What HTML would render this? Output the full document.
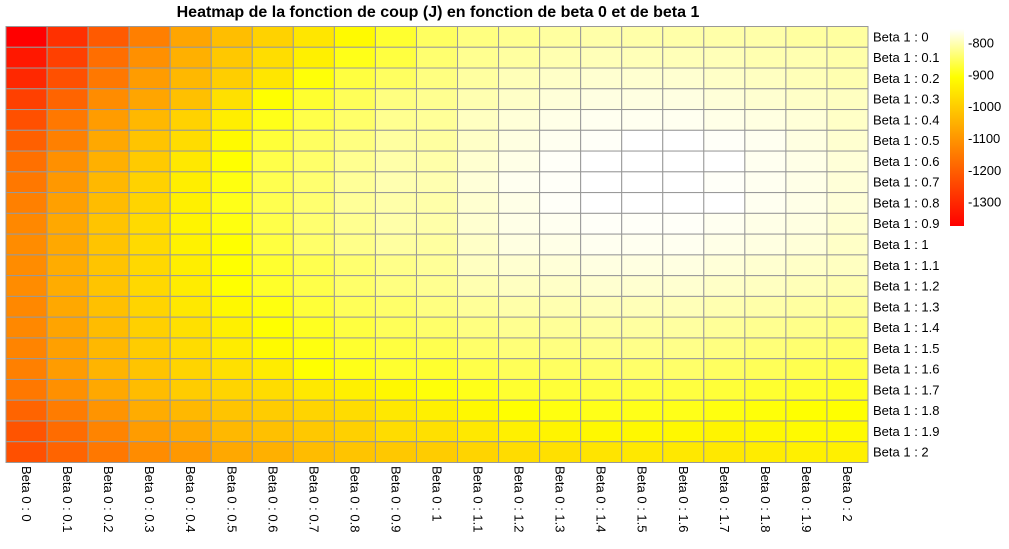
<!DOCTYPE html>
<html><head><meta charset="utf-8"><style>
body{margin:0;background:#fff;width:1009px;height:544px;overflow:hidden;font-family:"Liberation Sans",sans-serif}
</style></head><body>
<svg id="chart" width="1009" height="544" xmlns="http://www.w3.org/2000/svg" font-family="Liberation Sans, sans-serif">
<text x="438" y="17" text-anchor="middle" font-size="16" font-weight="bold" fill="#000">Heatmap de la fonction de coup (J) en fonction de beta 0 et de beta 1</text>
<g id="cells"></g><g id="xl"></g><g id="yl"></g><g id="cb"></g>
</svg>
<script>
const beta0Labels=["0","0.1","0.2","0.3","0.4","0.5","0.6","0.7","0.8","0.9","1","1.1","1.2","1.3","1.4","1.5","1.6","1.7","1.8","1.9","2"];
const beta1Labels=["0","0.1","0.2","0.3","0.4","0.5","0.6","0.7","0.8","0.9","1","1.1","1.2","1.3","1.4","1.5","1.6","1.7","1.8","1.9","2"];
const colorTicks=[-800,-900,-1000,-1100,-1200,-1300];
const row0=[-1375,-1287,-1210,-1142,-1072,-1026,-990,-953,-916,-879,-850,-831,-822,-812,-807,-807,-807,-807,-807,-812,-812];
const row1=[-1331,-1258,-1173,-1111,-1052,-1008,-969,-935,-893,-869,-841,-822,-812,-803,-798,-798,-798,-798,-803,-803,-807];
const row2=[-1302,-1228,-1155,-1089,-1037,-997,-953,-902,-869,-850,-831,-812,-798,-789,-784,-784,-784,-789,-793,-798,-803];
const row3=[-1258,-1191,-1118,-1072,-1023,-964,-907,-879,-855,-831,-822,-803,-789,-779,-774,-774,-774,-779,-784,-789,-793];
const row4=[-1228,-1155,-1089,-1037,-990,-938,-893,-864,-845,-822,-817,-793,-779,-770,-765,-765,-765,-770,-774,-779,-789];
const row5=[-1199,-1140,-1067,-1015,-971,-916,-874,-850,-831,-812,-812,-789,-774,-765,-760,-756,-756,-760,-765,-774,-784];
const row6=[-1169,-1111,-1052,-1004,-949,-907,-864,-845,-822,-807,-807,-784,-770,-760,-756,-756,-756,-756,-765,-770,-779];
const row7=[-1155,-1096,-1037,-990,-938,-898,-860,-841,-817,-803,-803,-779,-765,-760,-756,-756,-756,-760,-765,-770,-779];
const row8=[-1140,-1081,-1030,-986,-935,-893,-860,-841,-817,-807,-807,-784,-770,-760,-756,-756,-756,-756,-765,-770,-779];
const row9=[-1125,-1067,-1015,-975,-927,-898,-864,-841,-822,-807,-807,-784,-770,-765,-760,-760,-760,-765,-770,-774,-784];
const row10=[-1118,-1067,-1015,-975,-931,-907,-869,-845,-826,-812,-812,-789,-774,-770,-765,-765,-765,-770,-774,-779,-789];
const row11=[-1118,-1059,-1015,-978,-938,-907,-879,-860,-841,-826,-817,-793,-784,-779,-774,-774,-774,-779,-784,-789,-793];
const row12=[-1118,-1059,-1015,-978,-942,-907,-883,-864,-845,-831,-822,-803,-793,-789,-784,-784,-784,-789,-793,-798,-803];
const row13=[-1125,-1067,-1023,-986,-949,-920,-898,-874,-855,-845,-831,-817,-807,-803,-798,-798,-798,-803,-807,-812,-817];
const row14=[-1125,-1074,-1030,-993,-964,-935,-907,-888,-869,-855,-845,-831,-822,-817,-812,-812,-812,-817,-822,-826,-831];
const row15=[-1133,-1082,-1037,-1000,-971,-942,-916,-898,-879,-869,-860,-845,-836,-831,-826,-826,-826,-831,-836,-841,-845];
const row16=[-1140,-1089,-1045,-1015,-986,-964,-942,-907,-893,-879,-879,-864,-855,-850,-845,-845,-845,-850,-855,-860,-864];
const row17=[-1155,-1110,-1067,-1030,-1000,-986,-971,-949,-935,-920,-902,-893,-879,-874,-869,-869,-869,-874,-879,-883,-888];
const row18=[-1191,-1147,-1103,-1059,-1037,-1015,-1000,-986,-971,-949,-935,-920,-907,-898,-893,-893,-893,-898,-902,-907,-907];
const row19=[-1221,-1176,-1133,-1089,-1067,-1037,-1023,-1008,-993,-971,-964,-949,-935,-927,-920,-920,-920,-927,-920,-916,-916];
const row20=[-1228,-1191,-1155,-1118,-1096,-1067,-1052,-1030,-1015,-1008,-1000,-986,-971,-964,-956,-949,-949,-949,-942,-935,-935];
const rows=[row0,row1,row2,row3,row4,row5,row6,row7,row8,row9,row10,row11,row12,row13,row14,row15,row16,row17,row18,row19,row20];

const NS="http://www.w3.org/2000/svg";
const gx0=6,gx1=868,gy0=26.5,gy1=462.5;
const cw=(gx1-gx0)/beta0Labels.length, ch=(gy1-gy0)/beta1Labels.length;
const xPos=i=>gx0+i*cw, yPos=j=>gy0+j*ch;
const vMin=-1375,vMid=-907,vMax=-756;
function color(v){
  let r=255,g,b;
  if(v<=vMid){g=Math.round(255*Math.max(0,(v-vMin)/(vMid-vMin)));b=0;}
  else{g=255;b=Math.round(255*Math.min(1,(v-vMid)/(vMax-vMid)));}
  return `rgb(${r},${g},${b})`;
}
function mk(tag,attrs,parent){const e=document.createElementNS(NS,tag);for(const k in attrs)e.setAttribute(k,attrs[k]);parent.appendChild(e);return e;}
const cells=document.getElementById('cells');
rows.forEach((row,j)=>row.forEach((v,i)=>{
  const r=mk('rect',{x:xPos(i),y:yPos(j),width:cw,height:ch,fill:color(v),stroke:'#999','stroke-width':1},cells);
  
  
}));
const yl=document.getElementById('yl');
beta1Labels.forEach((l,j)=>{
  const t=mk('text',{x:873,y:yPos(j)+ch/2+4.5,'font-size':13,fill:'#000'},yl);
  t.textContent='Beta 1 : '+l;
  
  
});
const xl=document.getElementById('xl');
beta0Labels.forEach((l,i)=>{
  const cx=xPos(i)+cw/2-4.5;
  const t=mk('text',{x:cx,y:466,'font-size':13,fill:'#000',transform:`rotate(90 ${cx} 466)`},xl);
  t.textContent='Beta 0 : '+l;
  
  
});
const cb=document.getElementById('cb');
const cbTop=29,cbBot=226,cbx=950,cbw=14;
const cbY=v=>cbTop+(vMax-v)/(vMax-vMin)*(cbBot-cbTop);
const defs=mk('defs',{},cb);
const lg=mk('linearGradient',{id:'cbg',x1:0,y1:0,x2:0,y2:1},defs);
[vMax,vMid,vMin].forEach(v=>{mk('stop',{offset:(cbY(v)-cbTop)/(cbBot-cbTop),'stop-color':color(v)},lg);});
const bar=mk('rect',{x:cbx,y:cbTop,width:cbw,height:cbBot-cbTop,fill:'url(#cbg)'},cb);


colorTicks.forEach(v=>{
  const t=mk('text',{x:968,y:cbY(v)+4.5,'font-size':13,fill:'#000'},cb);
  t.textContent=String(v);
  
  
});
</script>
</body></html>
